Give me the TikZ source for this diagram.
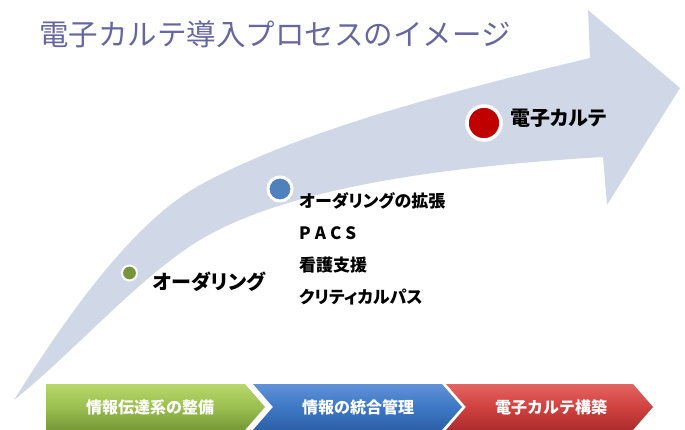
\documentclass[tikz,border=0pt]{standalone}
\usepackage{fontspec}
\setmainfont{Noto Sans CJK JP}
\newfontfamily\jp{Noto Sans CJK JP}
\newfontfamily\jpp{Noto Sans CJK JP}[RawFeature=+palt]
\definecolor{band}{RGB}{208,216,232}
\definecolor{titlec}{RGB}{102,102,160}
\definecolor{dotg}{RGB}{119,147,60}
\definecolor{dotb}{RGB}{79,129,189}
\definecolor{dotr}{RGB}{192,0,0}
\tikzset{
  lbl/.style={anchor=west, inner sep=0pt, text=black, font=\jpp\bfseries\fontsize{17}{20}\selectfont},
  dotbase/.style={circle, draw=white, inner sep=0pt},
  chevtext/.style={inner sep=0pt, text=white, font=\jp\bfseries\fontsize{16}{18}\selectfont},
  chevgreen/.style={top color={rgb,255:red,184;green,216;blue,106}, bottom color={rgb,255:red,118;green,152;blue,56}, middle color={rgb,255:red,155;green,191;blue,80}},
  chevblue/.style={top color={rgb,255:red,96;green,146;blue,216}, bottom color={rgb,255:red,44;green,96;blue,168}, middle color={rgb,255:red,62;green,120;blue,196}},
  chevred/.style={top color={rgb,255:red,228;green,100;blue,98}, bottom color={rgb,255:red,172;green,44;blue,44}, middle color={rgb,255:red,208;green,66;blue,64}},
}
\begin{document}
\begin{tikzpicture}[x=1pt,y=-1pt]
\useasboundingbox (0,0) rectangle (685,430);
% curved arrow
\fill[band] (14,400) .. controls (62,323.5) and (130,223.5) .. (200,185)
  .. controls (300,130) and (460,89) .. (590,58)
  -- (588,10) -- (680,88) -- (607,205) -- (603,157)
  .. controls (453,166) and (290,186) .. (200,240)
  .. controls (140,276) and (74,352) .. (14,400) -- cycle;
% title
\node[anchor=west, inner sep=0pt, text=titlec, font=\jp\fontsize{29.5}{32}\selectfont] (title) at (39,34) {電子カルテ導入プロセスのイメージ};
% dots
\node[dotbase, fill=dotg, line width=2pt, minimum size=15pt] (dotA) at (129.5,273) {};
\node[dotbase, fill=dotb, line width=3pt, minimum size=24pt] (dotB) at (280,189) {};
\node[dotbase, fill=dotr, line width=3.5pt, minimum size=34pt] (dotC) at (484,123) {};
% labels
\node[lbl, font=\jpp\bfseries\fontsize{20}{22}\selectfont] (lA) at (153,282) {オーダリング};
\node[lbl] (lB1) at (299,201) {オーダリングの拡張};
\node[lbl, font=\jp\bfseries\fontsize{17}{20}\selectfont] (lB2) at (299,233) {P\hspace{4pt}A\hspace{4pt}C\hspace{4pt}S};
\node[lbl] (lB3) at (299,265) {看護支援};
\node[lbl] (lB4) at (299,297) {クリティカルパス};
\node[lbl, font=\jpp\bfseries\fontsize{20}{22}\selectfont] (lC) at (510,118) {電子カルテ};
% chevrons
\shade[chevgreen] (46,384) -- (245,384) -- (265,407) -- (245,430) -- (46,430) -- cycle;
\shade[chevblue] (253,384) -- (442,384) -- (462,407) -- (442,430) -- (253,430) -- (273,407) -- cycle;
\shade[chevred] (446,384) -- (633,384) -- (653,407) -- (633,430) -- (446,430) -- (466,407) -- cycle;
\node[chevtext] (c1) at (150,407.5) {情報伝達系の整備};
\node[chevtext] (c2) at (358,407.5) {情報の統合管理};
\node[chevtext] (c3) at (551,407.5) {電子カルテ構築};
\end{tikzpicture}
\end{document}
